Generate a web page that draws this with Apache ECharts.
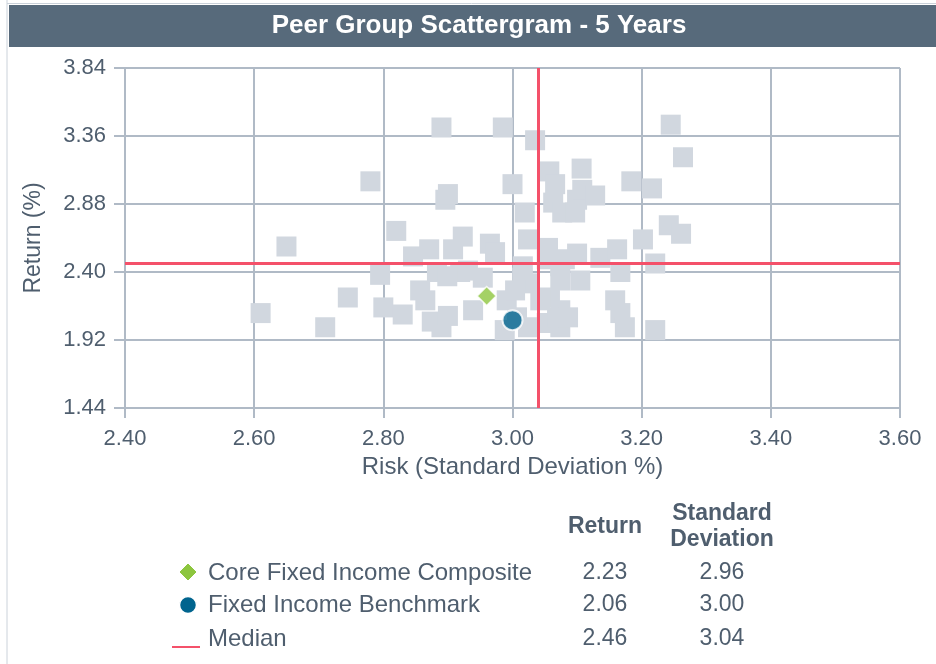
<!DOCTYPE html>
<html>
<head>
<meta charset="utf-8">
<title>Peer Group Scattergram - 5 Years</title>
<script src="https://cdn.jsdelivr.net/npm/echarts@6/dist/echarts.min.js"></script>
<style>
  html, body { margin: 0; padding: 0; background: #fff; }
  #chart { width: 936px; height: 664px; }
</style>
</head>
<body>
<div id="chart"></div>
<script>
// peer universe, risk (std dev %) and return (%)
const peerRisk = [
  2.61, 2.65, 2.71, 2.745, 2.78, 2.795, 2.80, 2.82, 2.83, 2.846,
  2.857, 2.865, 2.871, 2.875, 2.883, 2.89, 2.89, 2.896, 2.90, 2.90,
  2.908, 2.919, 2.923, 2.931, 2.939, 2.954, 2.965, 2.973, 2.985, 2.988,
  2.991, 3.00, 3.007, 3.015, 3.016, 3.019, 3.024, 3.024, 3.024, 3.035,
  3.053, 3.055, 3.053, 3.057, 3.058, 3.063, 3.066, 3.069, 3.074, 3.074,
  3.074, 3.074, 3.077, 3.081, 3.086, 3.097, 3.10, 3.10, 3.105, 3.107,
  3.108, 3.128, 3.136, 3.159, 3.162, 3.167, 3.167, 3.174, 3.184, 3.202,
  3.216, 3.221, 3.221, 3.242, 3.245, 3.261, 3.264, 2.899, 3.043, 3.004
];
const peerReturn = [
  2.11, 2.58, 2.01, 2.22, 3.04, 2.38, 2.15, 2.69, 2.10, 2.51,
  2.27, 2.20, 2.56, 2.05, 2.40, 3.42, 2.01, 2.91, 2.95, 2.09,
  2.56, 2.40, 2.65, 2.41, 2.13, 2.36, 2.60, 2.54, 3.42, 1.99,
  2.20, 3.02, 2.08, 2.36, 2.44, 2.82, 2.63, 2.32, 2.01, 3.33,
  2.49, 2.57, 2.04, 3.11, 2.22, 2.89, 3.02, 2.08, 2.44, 2.34,
  2.13, 2.01, 2.82, 2.49, 2.08, 2.82, 2.91, 2.53, 2.34, 3.13,
  2.98, 2.94, 2.50, 2.20, 2.56, 2.40, 2.11, 2.01, 3.04, 2.63,
  2.99, 2.46, 1.99, 2.73, 3.44, 2.67, 3.21, 2.37, 2.20, 2.27
];

// highlighted points: [risk, return]
const composite = [2.96, 2.23];
const benchmark = [3.00, 2.06];
const median = [3.04, 2.46];

const xTicks = [2.40, 2.60, 2.80, 3.00, 3.20, 3.40, 3.60];
const yTicks = [1.44, 1.92, 2.40, 2.88, 3.36, 3.84];

const textColor = "#4f5e6e";
const gridColor = "#b0bac6";
const font = "'Liberation Sans', Arial, sans-serif";

const chart = echarts.init(document.getElementById("chart"));

const peerData = peerRisk.map((r, i) => [r, peerReturn[i]]);

// legend table rows
const rows = [
  { name: "Core Fixed Income Composite", v: composite, y: 573 },
  { name: "Fixed Income Benchmark", v: benchmark, y: 605 },
  { name: "Median", v: median, y: 639 }
];

const graphics = [
  {
    type: "line",
    shape: { x1: 7, y1: 0, x2: 7, y2: 664 },
    style: { stroke: "#cbd2da", lineWidth: 1 }
  },
  {
    type: "line",
    shape: { x1: 7, y1: 3.5, x2: 936, y2: 3.5 },
    style: { stroke: "#cbd2da", lineWidth: 1 }
  },
  {
    type: "rect",
    shape: { x: 9, y: 5, width: 927, height: 42 },
    style: { fill: "#576a7b" }
  },
  {
    type: "text",
    x: 479,
    y: 26,
    style: {
      text: "Peer Group Scattergram - 5 Years",
      fill: "#fff",
      font: "bold 26px " + font,
      align: "center",
      verticalAlign: "middle"
    }
  },
  {
    type: "text", x: 605, y: 527,
    style: { text: "Return", fill: textColor, font: "bold 23px " + font, align: "center", verticalAlign: "middle" }
  },
  {
    type: "text", x: 722, y: 514,
    style: { text: "Standard", fill: textColor, font: "bold 23px " + font, align: "center", verticalAlign: "middle" }
  },
  {
    type: "text", x: 722, y: 540,
    style: { text: "Deviation", fill: textColor, font: "bold 23px " + font, align: "center", verticalAlign: "middle" }
  },
  // legend icons
  {
    type: "polygon",
    shape: { points: [[188, 563], [197, 572], [188, 581], [179, 572]] },
    style: { fill: "#8dc63f", stroke: "#fff", lineWidth: 1 }
  },
  {
    type: "circle",
    shape: { cx: 188, cy: 605, r: 8.5 },
    style: { fill: "#00648e", stroke: "#fff", lineWidth: 1.5 }
  },
  {
    type: "line",
    shape: { x1: 172, y1: 647, x2: 200, y2: 647 },
    style: { stroke: "#f4516a", lineWidth: 2 }
  }
];

rows.forEach(row => {
  graphics.push({
    type: "text", x: 208, y: row.y,
    style: { text: row.name, fill: textColor, font: "24px " + font, verticalAlign: "middle" }
  });
  graphics.push({
    type: "text", x: 605, y: row.y,
    style: { text: row.v[1].toFixed(2), fill: textColor, font: "23px " + font, align: "center", verticalAlign: "middle" }
  });
  graphics.push({
    type: "text", x: 722, y: row.y,
    style: { text: row.v[0].toFixed(2), fill: textColor, font: "23px " + font, align: "center", verticalAlign: "middle" }
  });
});

const option = {
  animation: false,
  textStyle: { fontFamily: font },
  grid: {
    left: 125,
    right: 36,
    top: 68,
    bottom: 256,
    containLabel: false
  },
  xAxis: {
    type: "value",
    min: xTicks[0],
    max: xTicks[xTicks.length - 1],
    interval: 0.2,
    name: "Risk (Standard Deviation %)",
    nameLocation: "middle",
    nameGap: 47,
    nameTextStyle: { color: textColor, fontSize: 24 },
    axisLine: { show: true, lineStyle: { color: gridColor, width: 2 } },
    axisTick: { show: true, length: 10, lineStyle: { color: gridColor, width: 2 } },
    axisLabel: {
      color: textColor,
      fontSize: 22,
      margin: 20,
      formatter: v => v.toFixed(2)
    },
    splitLine: { show: true, lineStyle: { color: gridColor, width: 2 } }
  },
  yAxis: {
    type: "value",
    min: yTicks[0],
    max: yTicks[yTicks.length - 1],
    interval: 0.48,
    name: "Return (%)",
    nameLocation: "middle",
    nameGap: 80,
    nameTextStyle: { color: textColor, fontSize: 23 },
    axisLine: { show: true, lineStyle: { color: gridColor, width: 2 } },
    axisTick: { show: true, length: 11, lineStyle: { color: gridColor, width: 2 } },
    axisLabel: {
      color: textColor,
      fontSize: 22,
      margin: 19,
      formatter: v => v.toFixed(2)
    },
    splitLine: { show: true, lineStyle: { color: gridColor, width: 2 } }
  },
  series: [
    {
      name: "Peer Group",
      type: "scatter",
      symbol: "rect",
      symbolSize: 20,
      data: peerData,
      itemStyle: { color: "#d1d7df", opacity: 1 },
      silent: true,
      markLine: {
        silent: true,
        symbol: "none",
        label: { show: false },
        lineStyle: { color: "#f4516a", width: 3, type: "solid" },
        data: [{ xAxis: median[0] }, { yAxis: median[1] }]
      },
      z: 2
    },
    {
      name: "Core Fixed Income Composite",
      type: "scatter",
      symbol: "diamond",
      symbolSize: 19,
      data: [composite],
      itemStyle: { color: "#8dc63f", borderColor: "#fff", borderWidth: 1.5 },
      z: 5
    },
    {
      name: "Fixed Income Benchmark",
      type: "scatter",
      symbol: "circle",
      symbolSize: 20,
      data: [benchmark],
      itemStyle: { color: "#00648e", borderColor: "#fff", borderWidth: 2 },
      z: 5
    }
  ],
  graphic: graphics
};

chart.setOption(option);
</script>
</body>
</html>
